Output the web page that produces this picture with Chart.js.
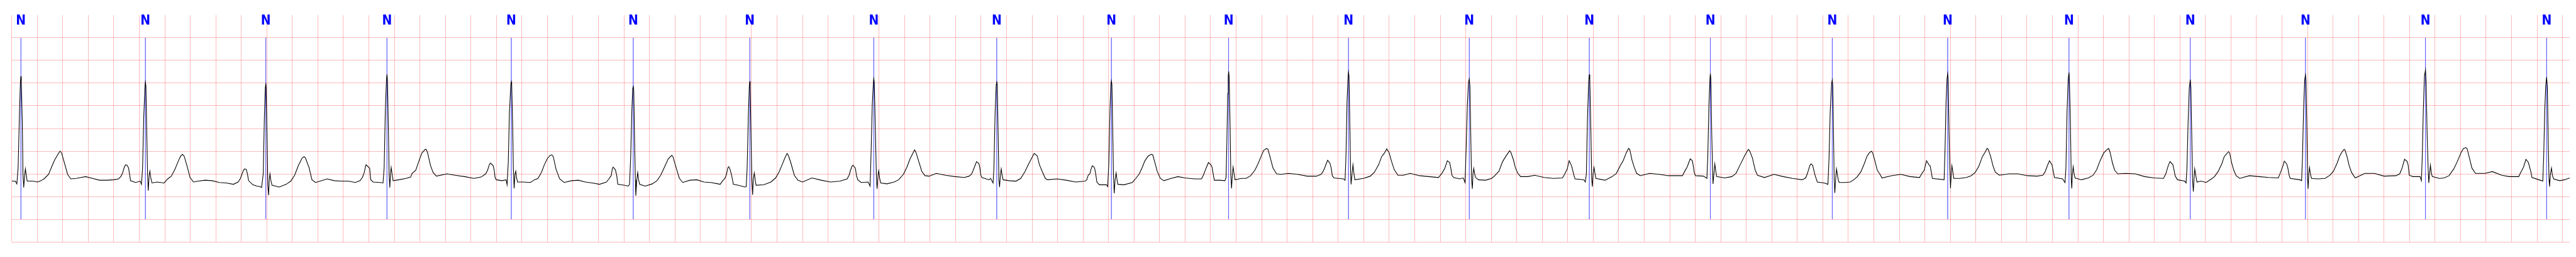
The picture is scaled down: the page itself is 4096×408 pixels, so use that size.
<!DOCTYPE html>
<html>
<head>
<meta charset="utf-8">
<script src="https://cdn.jsdelivr.net/npm/chart.js@4/dist/chart.umd.min.js"></script>
<style>
  html, body { margin: 0; padding: 0; background: #ffffff; }
  canvas { display: block; }
</style>
</head>
<body>
<canvas id="ecgChart" width="4096" height="408" style="width:4096px;height:408px"></canvas>
<script>
// 시간 (초)
var ecgTime = [
  0.000, 0.028, 0.040, 0.050, 0.061, 0.068, 0.072, 0.075, 0.083, 0.088, 0.094, 0.101, 0.107, 0.114, 0.121,
  0.166, 0.202, 0.230, 0.257, 0.289, 0.309, 0.335, 0.364, 0.379, 0.390, 0.414, 0.438, 0.463, 0.506, 0.543,
  0.579, 0.634, 0.690, 0.745, 0.800, 0.837, 0.855, 0.868, 0.883, 0.892, 0.905, 0.916, 0.925, 0.931, 0.971,
  1.008, 1.017, 1.026, 1.035, 1.045, 1.048, 1.052, 1.059, 1.065, 1.070, 1.078, 1.083, 1.091, 1.100, 1.140,
  1.195, 1.223, 1.251, 1.278, 1.306, 1.324, 1.339, 1.352, 1.374, 1.398, 1.425, 1.462, 1.517, 1.572, 1.628,
  1.683, 1.738, 1.775, 1.793, 1.806, 1.817, 1.826, 1.839, 1.848, 1.857, 1.891, 1.922, 1.946, 1.959, 1.972,
  1.981, 1.988, 1.992, 1.995, 2.003, 2.008, 2.014, 2.019, 2.025, 2.032, 2.041, 2.097, 2.152, 2.188, 2.218,
  2.247, 2.277, 2.292, 2.303, 2.332, 2.354, 2.382, 2.418, 2.474, 2.529, 2.584, 2.639, 2.694, 2.731, 2.749,
  2.764, 2.773,
  2.778, 2.797, 2.806, 2.815, 2.834, 2.889, 2.911, 2.920, 2.929, 2.938, 2.942, 2.946, 2.953, 2.959, 2.964,
  2.970, 2.975, 2.982, 2.990, 3.036, 3.091, 3.128, 3.139, 3.168, 3.192, 3.216, 3.242, 3.249, 3.260, 3.284,
  3.304, 3.330, 3.413, 3.477, 3.551, 3.624, 3.680, 3.716, 3.731, 3.744, 3.753, 3.775, 3.783, 3.790, 3.799,
  3.845, 3.876, 3.884, 3.893, 3.902, 3.913, 3.917, 3.920, 3.928, 3.933, 3.939, 3.946, 3.952, 3.959, 3.966,
  4.011, 4.066, 4.099, 4.126, 4.154, 4.176, 4.198, 4.222, 4.235, 4.246, 4.268, 4.296, 4.332, 4.388, 4.443,
  4.498, 4.553, 4.608, 4.663, 4.682, 4.700, 4.709, 4.715, 4.733, 4.743, 4.752, 4.801, 4.834, 4.844, 4.853,
  4.862, 4.869, 4.873, 4.877, 4.884, 4.890, 4.893, 4.901, 4.908, 4.915, 4.923, 4.967, 5.022, 5.059, 5.088,
  5.118, 5.147, 5.175, 5.184, 5.210, 5.235, 5.261, 5.316, 5.372, 5.427, 5.482, 5.537, 5.555, 5.574, 5.592,
  5.605, 5.614, 5.622, 5.633, 5.644,
  5.658, 5.695, 5.750, 5.759, 5.766, 5.776, 5.783, 5.787, 5.790, 5.798, 5.803, 5.809, 5.814, 5.822, 5.829,
  5.836, 5.897, 5.952, 5.989, 6.016, 6.040, 6.062, 6.079, 6.090, 6.108, 6.136, 6.164, 6.200, 6.274, 6.348,
  6.421, 6.495, 6.550, 6.565, 6.577, 6.588, 6.596, 6.614, 6.623, 6.633, 6.660, 6.715, 6.730, 6.737, 6.747,
  6.756, 6.759, 6.763, 6.772, 6.780, 6.785, 6.793, 6.798, 6.805, 6.813, 6.862, 6.918, 6.954, 6.991, 7.019,
  7.043, 7.068, 7.079, 7.089, 7.111, 7.135, 7.160, 7.193, 7.249, 7.322, 7.396, 7.469, 7.506, 7.525, 7.539,
  7.552, 7.565, 7.583, 7.591, 7.598, 7.607, 7.662, 7.675, 7.694, 7.701, 7.710, 7.719, 7.723, 7.727, 7.734,
  7.740, 7.745, 7.753, 7.758, 7.765, 7.773, 7.819, 7.874, 7.911, 7.944, 7.975, 8.003, 8.016, 8.040, 8.058,
  8.080, 8.104, 8.122, 8.196, 8.269, 8.343, 8.416, 8.429, 8.440, 8.453, 8.462, 8.472, 8.481, 8.490, 8.499,
  8.508,
  8.528, 8.583, 8.593, 8.602, 8.611, 8.618, 8.622, 8.626, 8.633, 8.638, 8.644, 8.651, 8.659, 8.666, 8.673,
  8.721, 8.786, 8.813, 8.841, 8.865, 8.883, 8.909, 8.933, 8.946, 8.960, 8.982, 9.006, 9.034, 9.089, 9.144,
  9.199, 9.273, 9.328, 9.343, 9.365, 9.383, 9.402, 9.411, 9.420, 9.429, 9.475, 9.512, 9.521, 9.527, 9.534,
  9.538, 9.541, 9.545, 9.553, 9.558, 9.564, 9.571, 9.576, 9.584, 9.591, 9.641, 9.678, 9.714, 9.747, 9.773,
  9.795, 9.816, 9.839, 9.850, 9.865, 9.889, 9.917, 9.953, 10.009, 10.082, 10.156, 10.229, 10.266, 10.281, 10.294,
  10.307, 10.318, 10.336, 10.345, 10.354, 10.367, 10.441, 10.454, 10.461, 10.470, 10.478, 10.481, 10.485, 10.492, 10.498,
  10.501, 10.509, 10.516, 10.524, 10.531, 10.597, 10.652, 10.685, 10.717, 10.741, 10.763, 10.781, 10.799, 10.818, 10.840,
  10.869, 10.910, 10.965, 11.038, 11.112, 11.186, 11.213, 11.237, 11.256, 11.274, 11.283, 11.292, 11.305, 11.351, 11.381,
  11.395, 11.404, 11.413, 11.422, 11.428, 11.433, 11.441, 11.446, 11.452, 11.457, 11.463, 11.470, 11.478, 11.500, 11.555,
  11.603, 11.628, 11.661, 11.689, 11.713, 11.735, 11.744, 11.753, 11.772, 11.790, 11.809, 11.831, 11.886, 11.941, 12.015,
  12.088, 12.158, 12.171, 12.184, 12.195, 12.211, 12.230, 12.239, 12.248, 12.257, 12.327, 12.338, 12.346, 12.355, 12.364,
  12.369, 12.373, 12.381, 12.388, 12.393, 12.399, 12.406, 12.414, 12.421, 12.493, 12.548, 12.581, 12.612, 12.636, 12.658,
  12.677, 12.686, 12.704, 12.723, 12.741, 12.769, 12.842, 12.916, 12.989, 13.100, 13.112, 13.136, 13.160, 13.177, 13.184,
  13.192, 13.201, 13.265, 13.291, 13.298, 13.307, 13.315, 13.318, 13.322, 13.329, 13.335, 13.339, 13.346, 13.353, 13.361,
  13.368, 13.431, 13.486, 13.519, 13.552, 13.587, 13.605, 13.616, 13.626, 13.648, 13.670, 13.688, 13.743, 13.817, 13.890,
  13.964, 14.038, 14.065, 14.078, 14.098, 14.107, 14.120, 14.139, 14.157, 14.212, 14.240, 14.249, 14.258,
  14.269, 14.274, 14.278, 14.285, 14.289, 14.294, 14.300, 14.307, 14.315, 14.322, 14.329, 14.370, 14.414, 14.443, 14.471,
  14.499, 14.526, 14.545, 14.563, 14.581, 14.590, 14.609, 14.627, 14.646, 14.664, 14.738, 14.811, 14.885, 14.958, 14.977,
  14.995, 15.013, 15.032, 15.041, 15.050, 15.059, 15.151, 15.159, 15.166, 15.174, 15.179, 15.183, 15.190, 15.196, 15.201,
  15.207, 15.212, 15.219, 15.227, 15.271, 15.326, 15.363, 15.394, 15.422, 15.451, 15.473, 15.488, 15.497, 15.516, 15.534,
  15.552, 15.584, 15.657, 15.731, 15.804, 15.878, 15.924, 15.942, 15.961, 15.977, 15.997, 16.007, 16.016, 16.080, 16.099,
  16.106, 16.115, 16.124, 16.130, 16.133, 16.141, 16.148, 16.152, 16.157, 16.163, 16.170, 16.178, 16.227, 16.282, 16.319,
  16.347, 16.374, 16.402, 16.426, 16.441, 16.452, 16.470, 16.488, 16.512, 16.577, 16.650, 16.724, 16.797, 16.871, 16.889,
  16.908, 16.922, 16.945, 16.954, 16.963, 16.981, 17.037, 17.048, 17.055, 17.064, 17.073, 17.081, 17.086, 17.094, 17.099,
  17.105, 17.110, 17.116, 17.125, 17.134,
  17.164, 17.205, 17.247, 17.271, 17.299, 17.328, 17.347, 17.365, 17.381, 17.390, 17.405, 17.422, 17.441, 17.469, 17.545,
  17.620, 17.695, 17.771, 17.790, 17.809, 17.818, 17.837, 17.846, 17.856, 17.865, 17.941, 17.954, 17.961, 17.969, 17.978,
  17.984, 17.988, 17.995, 18.001, 18.005, 18.010, 18.016, 18.023, 18.031, 18.082, 18.138, 18.176, 18.204, 18.233, 18.252,
  18.270, 18.287, 18.295, 18.310, 18.327, 18.346, 18.374, 18.450, 18.525, 18.600, 18.695, 18.723, 18.742, 18.761, 18.780,
  18.789, 18.798, 18.827, 18.883, 18.893, 18.900, 18.908, 18.917, 18.925, 18.930, 18.938, 18.946, 18.951, 18.957, 18.964,
  18.972, 18.979, 19.034, 19.072, 19.110, 19.147, 19.176, 19.204, 19.223, 19.242, 19.251, 19.270, 19.289, 19.317, 19.392,
  19.449, 19.524, 19.581, 19.656, 19.675, 19.694, 19.713, 19.732, 19.751, 19.760, 19.826, 19.845, 19.852, 19.860, 19.868,
  19.875, 19.881, 19.888, 19.894, 19.898, 19.905, 19.913, 19.920, 19.930, 19.977, 20.015, 20.056
];

// 전압 (mV)
var ecgMv = [
  -0.16, -0.16, -0.22, 0.13, 1.39, 2.02, 2.15, 2.02, 1.14, 0.00, -0.30, -0.03, 0.11, -0.03, -0.16,
  -0.16, -0.18, -0.15, -0.10, -0.01, 0.13, 0.30, 0.44, 0.50, 0.47, 0.23, -0.01, -0.11, -0.10, -0.08,
  -0.06, -0.10, -0.14, -0.14, -0.13, -0.11, -0.06, 0.01, 0.15, 0.20, 0.19, 0.13, -0.03, -0.15, -0.19,
  -0.16, -0.23, 0.13, 1.26, 1.94, 2.02, 1.94, 0.88, 0.00, -0.37, -0.03, 0.06, -0.10, -0.20, -0.18,
  -0.20, -0.11, -0.05, 0.09, 0.28, 0.39, 0.43, 0.39, 0.18, -0.08, -0.18, -0.16, -0.14, -0.15, -0.19,
  -0.20, -0.23, -0.18, -0.10, 0.00, 0.08, 0.11, 0.10, 0.00, -0.15, -0.24, -0.27, -0.28, -0.30, 0.00,
  1.26, 1.89, 2.00, 1.89, 0.63, -0.25, -0.47, -0.13, 0.00, -0.15, -0.25, -0.29, -0.23, -0.16, -0.03,
  0.18, 0.35, 0.38, 0.35, 0.13, -0.13, -0.19, -0.16, -0.11, -0.15, -0.16, -0.16, -0.19, -0.15, -0.08,
  0.03, 0.15,
  0.20, 0.15, 0.13, -0.13, -0.18, -0.19, -0.20, 0.13, 1.39, 2.07, 2.19, 2.07, 1.01, 0.00, -0.30,
  0.00, 0.14, 0.00, -0.15, -0.13, -0.10, -0.07, 0.01, 0.08, 0.28, 0.46, 0.54, 0.54, 0.47, 0.18,
  0.03, -0.05, 0.00, -0.03, -0.06, -0.10, -0.07, 0.00, 0.08, 0.20, 0.24, 0.18, 0.08, -0.08, -0.13,
  -0.15, -0.13, -0.24, 0.25, 1.34, 1.97, 2.03, 1.97, 1.01, 0.13, -0.32, 0.00, 0.06, -0.10, -0.18,
  -0.18, -0.19, -0.13, -0.10, 0.04, 0.20, 0.33, 0.41, 0.42, 0.38, 0.10, -0.11, -0.19, -0.15, -0.14,
  -0.18, -0.20, -0.23, -0.18, -0.11, -0.04, 0.11, 0.15, 0.09, -0.03, -0.23, -0.25, -0.27, -0.23, 0.38,
  1.39, 1.89, 1.94, 1.84, 0.63, -0.13, -0.48, -0.13, 0.03, -0.13, -0.23, -0.27, -0.22, -0.15, -0.03,
  0.15, 0.33, 0.41, 0.38, 0.13, -0.10, -0.19, -0.14, -0.13, -0.18, -0.19, -0.22, -0.23, -0.15, -0.10,
  0.00, 0.13, 0.16, 0.09, -0.03,
  -0.23, -0.25, -0.29, -0.28, 0.13, 1.34, 1.94, 2.04, 1.94, 0.63, -0.13, -0.46, -0.13, 0.02, -0.13,
  -0.25, -0.24, -0.18, -0.09, 0.04, 0.20, 0.35, 0.45, 0.40, 0.25, -0.03, -0.14, -0.18, -0.09, -0.14,
  -0.18, -0.16, -0.11, -0.03, 0.08, 0.17, 0.19, 0.13, -0.03, -0.13, -0.19, -0.18, -0.27, 0.38, 1.52,
  2.02, 2.10, 2.02, 0.88, -0.13, -0.33, 0.00, 0.07, -0.10, -0.20, -0.22, -0.18, -0.13, -0.01, 0.15,
  0.33, 0.47, 0.53, 0.48, 0.28, 0.06, -0.04, -0.05, 0.01, -0.03, -0.06, -0.08, -0.05, -0.01, 0.08,
  0.18, 0.27, 0.23, 0.13, -0.03, -0.08, -0.13, -0.10, -0.20, 0.13, 1.34, 1.97, 2.04, 1.97, 0.88,
  -0.13, -0.29, 0.00, 0.11, -0.03, -0.13, -0.15, -0.16, -0.10, 0.05, 0.23, 0.38, 0.45, 0.40, 0.20,
  0.05, -0.10, -0.13, -0.11, -0.14, -0.18, -0.16, -0.13, -0.03, 0.00, 0.10, 0.18, 0.16, 0.13, 0.00,
  -0.18,
  -0.24, -0.24, -0.28, 0.25, 1.44, 1.97, 2.05, 1.97, 0.88, 0.00, -0.43, -0.13, 0.02, -0.13, -0.23,
  -0.24, -0.19, -0.10, 0.00, 0.15, 0.28, 0.39, 0.43, 0.42, 0.28, 0.05, -0.10, -0.15, -0.10, -0.06,
  -0.09, -0.11, -0.11, -0.03, 0.13, 0.25, 0.20, 0.15, 0.00, -0.14, -0.14, -0.15, -0.08, 0.63, 1.77,
  2.15, 2.26, 2.15, 1.01, 0.00, -0.32, 0.00, 0.15, 0.00, -0.13, -0.10, -0.10, -0.04, 0.08, 0.23,
  0.38, 0.52, 0.56, 0.54, 0.38, 0.13, 0.00, -0.01, 0.01, -0.01, -0.05, -0.05, -0.01, 0.05, 0.13,
  0.23, 0.30, 0.23, 0.13, -0.04, -0.09, -0.11, -0.14, 0.38, 1.64, 2.15, 2.24, 2.15, 1.01, 0.00,
  -0.23, 0.00, 0.20, 0.00, -0.13, -0.10, -0.05, 0.04, 0.20, 0.38, 0.46, 0.55, 0.47, 0.28, 0.09,
  -0.03, -0.03, 0.01, -0.04, -0.06, -0.08, 0.01, 0.13, 0.29, 0.25, 0.13, -0.03, -0.08, -0.11, -0.09,
  -0.19, 0.63, 1.52, 2.02, 2.09, 1.94, 0.63, -0.13, -0.33, 0.00, 0.12, 0.00, -0.08, -0.13, -0.14,
  -0.10, -0.04, 0.06, 0.27, 0.38, 0.47, 0.51, 0.48, 0.33, 0.13, 0.01, -0.06, -0.06, -0.03, -0.08,
  -0.10, -0.09, -0.03, 0.04, 0.10, 0.29, 0.18, 0.08, -0.03, -0.11, -0.13, -0.18, 0.00, 1.26, 2.02,
  2.19, 2.07, 1.01, -0.13, -0.28, 0.00, 0.14, 0.00, -0.10, -0.14, -0.06, 0.01, 0.18, 0.30, 0.46,
  0.56, 0.54, 0.30, 0.13, 0.01, -0.04, 0.01, -0.01, -0.04, -0.04, 0.03, 0.15, 0.33, 0.29, 0.18,
  0.03, -0.04, -0.05, -0.10, 0.38, 1.52, 2.10, 2.21, 2.10, 0.88, 0.13, -0.22, 0.00, 0.22, 0.05,
  -0.06, -0.09, -0.06, 0.01, 0.20, 0.40, 0.49, 0.54, 0.51, 0.35, 0.08, -0.03, -0.08, -0.01, -0.06,
  -0.10, -0.13, -0.09, 0.00, 0.18, 0.22, 0.19, -0.03, -0.18, -0.20, -0.23, 0.38, 1.39,
  2.00, 2.07, 1.94, 0.63, -0.13, -0.42, -0.13, 0.11, -0.03, -0.15, -0.19, -0.19, -0.18, -0.13, -0.06,
  0.05, 0.23, 0.38, 0.46, 0.50, 0.47, 0.28, 0.08, 0.00, -0.09, -0.04, -0.01, -0.06, -0.08, 0.01,
  0.08, 0.29, 0.20, 0.18, 0.05, -0.10, -0.13, 0.63, 1.57, 2.10, 2.21, 2.07, 0.88, 0.13, -0.32,
  0.00, 0.18, 0.05, -0.10, -0.10, -0.08, -0.04, 0.03, 0.16, 0.38, 0.48, 0.56, 0.54, 0.38, 0.18,
  0.04, -0.03, 0.00, 0.00, -0.04, -0.05, -0.03, 0.04, 0.18, 0.29, 0.20, 0.05, -0.08, -0.11, -0.19,
  0.13, 1.39, 2.10, 2.23, 2.10, 1.14, -0.13, -0.32, 0.00, 0.16, 0.00, -0.09, -0.13, -0.09, -0.03,
  0.09, 0.29, 0.46, 0.53, 0.56, 0.48, 0.25, 0.08, 0.00, 0.01, 0.00, -0.06, -0.09, -0.10, 0.00,
  0.18, 0.27, 0.20, 0.08, -0.05, -0.13, -0.16, -0.20, 0.13, 1.14, 1.89, 2.08, 1.89, 0.63, -0.13,
  -0.39, -0.13, 0.11, -0.05, -0.18,
  -0.16, -0.19, -0.11, -0.06, 0.05, 0.22, 0.38, 0.44, 0.49, 0.46, 0.25, 0.08, -0.04, -0.10, -0.04,
  -0.06, -0.08, -0.09, 0.04, 0.19, 0.28, 0.22, 0.13, -0.03, -0.10, -0.13, -0.15, 0.38, 1.39, 2.07,
  2.18, 2.07, 1.01, -0.13, -0.33, 0.00, 0.14, 0.00, -0.10, -0.11, -0.10, -0.03, 0.06, 0.24, 0.39,
  0.48, 0.54, 0.52, 0.38, 0.18, 0.03, -0.09, 0.01, 0.01, -0.05, -0.04, 0.00, 0.13, 0.32, 0.28,
  0.20, -0.03, -0.06, -0.06, -0.15, 0.38, 1.39, 2.15, 2.29, 2.02, 0.88, 0.13, -0.20, 0.00, 0.19,
  0.00, -0.06, -0.10, -0.09, -0.04, 0.11, 0.28, 0.47, 0.56, 0.58, 0.56, 0.35, 0.13, 0.01, 0.01,
  0.05, -0.03, -0.06, -0.06, 0.05, 0.15, 0.32, 0.25, 0.05, -0.08, -0.14, -0.16, 0.38, 1.39, 1.94,
  2.13, 1.89, 0.63, -0.13, -0.28, 0.00, 0.13, -0.03, -0.11, -0.15, -0.13, -0.09
];

// 비트 주석 (R 피크 위치, 초)
var beatTime = [
  0.072, 1.048, 1.992, 2.942, 3.917, 4.873, 5.787, 6.759, 7.723, 8.622, 9.541,
  10.481, 11.428, 12.369, 13.318, 14.274, 15.179, 16.130, 17.081, 17.984, 18.925, 19.875
];
var beatLabel = ['N', 'N', 'N', 'N', 'N', 'N', 'N', 'N', 'N', 'N', 'N',
                 'N', 'N', 'N', 'N', 'N', 'N', 'N', 'N', 'N', 'N', 'N'];

// 축 범위
var timeMax = 20.056;
var mvMin = -1.5;
var mvMax = 3.5;
var markTop = 3.0;
var markBottom = -1.0;

// N 라벨 그리기
const beatLabelPlugin = {
    id: 'beatLabels',
    afterDatasetsDraw(chart) {
        const ctx = chart.ctx;
        const xScale = chart.scales.x;
        const top = chart.chartArea.top;
        ctx.save();
        ctx.fillStyle = '#0000ff';
        ctx.font = 'bold 21px "Liberation Sans Narrow", "DejaVu Sans Condensed", sans-serif';
        ctx.textAlign = 'center';
        ctx.textBaseline = 'alphabetic';
        beatTime.forEach((t, i) => {
            ctx.fillText(beatLabel[i], xScale.getPixelForValue(t), top + 15.4);
        });
        ctx.restore();
    }
};

function drawEcgChart() {
    const ctx = document.getElementById('ecgChart').getContext('2d');

    const ecgPoints = ecgTime.map((t, i) => ({ x: t, y: ecgMv[i] }));

    // 주석 세로선 (null 로 끊어서 한 데이터셋으로)
    const markPoints = [];
    beatTime.forEach(t => {
        markPoints.push({ x: t, y: markTop });
        markPoints.push({ x: t, y: markBottom });
        markPoints.push({ x: t, y: null });
    });

    window.ecgChart = new Chart(ctx, {
        type: 'line',
        data: {
            datasets: [{
                label: 'ECG',
                data: ecgPoints,
                borderColor: '#000000',
                borderWidth: 1.1,
                pointRadius: 0,
                tension: 0,
                fill: false
            }, {
                label: 'beats',
                data: markPoints,
                borderColor: 'rgba(0, 0, 255, 0.4)',
                borderWidth: 0.8,
                pointRadius: 0,
                spanGaps: false,
                fill: false
            }]
        },
        options: {
            responsive: false,
            animation: false,
            devicePixelRatio: 1,
            layout: {
                padding: { left: 18.66, right: 10, top: 23.9, bottom: 23.9 }
            },
            plugins: {
                legend: { display: false },
                tooltip: { enabled: false }
            },
            scales: {
                x: {
                    type: 'linear',
                    min: 0,
                    max: timeMax,
                    border: { display: false },
                    grid: {
                        color: 'rgba(255, 0, 0, 0.27)',
                        lineWidth: 1,
                        drawTicks: false
                    },
                    ticks: {
                        display: false,
                        stepSize: 0.2,
                        includeBounds: false,
                        autoSkip: false,
                        maxTicksLimit: 200
                    }
                },
                y: {
                    type: 'linear',
                    min: mvMin,
                    max: mvMax,
                    border: { display: false },
                    grid: {
                        color: c => Math.abs(c.tick.value - mvMax) < 1e-6 ? 'rgba(0,0,0,0)' : 'rgba(255, 0, 0, 0.27)',
                        lineWidth: 1,
                        drawTicks: false
                    },
                    ticks: {
                        display: false,
                        stepSize: 0.5
                    }
                }
            }
        },
        plugins: [beatLabelPlugin]
    });
}

drawEcgChart();
</script>
</body>
</html>
